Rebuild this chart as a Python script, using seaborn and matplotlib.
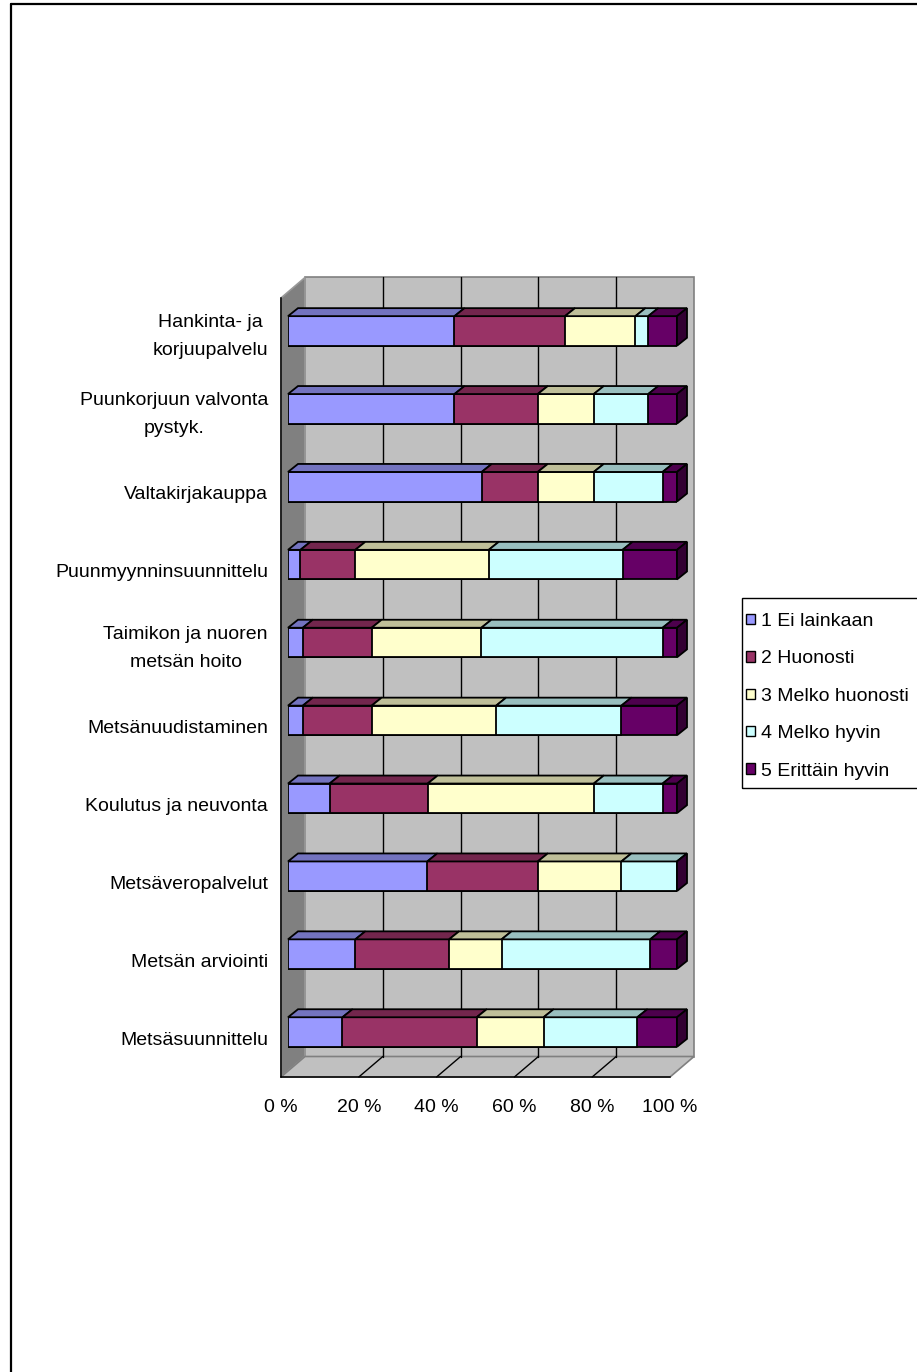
import numpy as np
import pandas as pd
import seaborn as sns
import matplotlib.pyplot as plt
from matplotlib.patches import Polygon, Rectangle, Patch
from matplotlib.lines import Line2D

# ---------------- data ----------------
categories = [
    "Hankinta- ja\nkorjuupalvelu",
    "Puunkorjuun valvonta\npystyk.",
    "Valtakirjakauppa",
    "Puunmyynninsuunnittelu",
    "Taimikon ja nuoren\nmetsän hoito",
    "Metsänuudistaminen",
    "Koulutus ja neuvonta",
    "Metsäveropalvelut",
    "Metsän arviointi",
    "Metsäsuunnittelu",
]
series = ["1 Ei lainkaan", "2 Huonosti", "3 Melko huonosti", "4 Melko hyvin", "5 Erittäin hyvin"]
ei_lainkaan = [42.8, 42.8, 49.8, 3.2, 3.8, 3.8, 10.7, 35.8, 17.3, 14.0]
huonosti = [28.4, 21.4, 14.4, 14.1, 17.7, 17.7, 25.2, 28.4, 24.1, 34.5]
melko_huonosti = [18.1, 14.4, 14.4, 34.3, 28.2, 32.0, 42.7, 21.5, 13.5, 17.2]
melko_hyvin = [3.3, 14.0, 17.7, 34.4, 46.6, 32.2, 17.7, 14.3, 38.2, 24.1]
erittain_hyvin = [7.4, 7.4, 3.7, 14.0, 3.7, 14.3, 3.7, 0.0, 6.9, 10.2]
xtick_values = [0, 20, 40, 60, 80, 100]
xtick_labels = ["0 %", "20 %", "40 %", "60 %", "80 %", "100 %"]

front_colors = ["#9999FF", "#993366", "#FFFFCC", "#CCFFFF", "#660066"]
top_colors = ["#7373BF", "#73264D", "#BFBF99", "#99BFBF", "#4D004D"]
side_color = "#330033"

df = pd.DataFrame({"Palvelu": categories,
                   series[0]: ei_lainkaan, series[1]: huonosti,
                   series[2]: melko_huonosti, series[3]: melko_hyvin,
                   series[4]: erittain_hyvin})
vals = df[series]
pct = vals.div(vals.sum(axis=1), axis=0) * 100
cum = pct.cumsum(axis=1)

# ---------------- figure ----------------
sns.set_style("white")
plt.rcParams['font.family'] = ['Liberation Sans', 'DejaVu Sans']
plt.rcParams['text.color'] = 'black'
plt.rcParams['xtick.color'] = 'black'
plt.rcParams['ytick.color'] = 'black'
plt.rcParams['axes.labelcolor'] = 'black'

W, H = 917, 1372
fig = plt.figure(figsize=(W / 100, H / 100), dpi=100)


def axes_px(l, t, w, h):
    return fig.add_axes([l / W, 1 - (t + h) / H, w / W, h / H])


AX_W, AX_H = 389, 779
ax_front = axes_px(281, 298, AX_W, AX_H)
ax_bars = axes_px(288, 292, AX_W, AX_H)

xs = 100 / AX_W      # data units per px (x)
ys = 10 / AX_H       # data units per px (y)
DX, DY = 24, 20.5    # total depth offset of back wall (px, right/up)


def pt(x, y, t):
    return (x + t * DX * xs, y - t * DY * ys)


# outer border (left and top)
fig.add_artist(Line2D([11 / W, 11 / W], [0, 1 - 4 / H], color="black", lw=1.6,
                      transform=fig.transFigure))
fig.add_artist(Line2D([11 / W, 1.0], [1 - 4 / H, 1 - 4 / H], color="black", lw=1.6,
                      transform=fig.transFigure))

# ---------------- walls ----------------
ax_front.set_xlim(0, 100)
ax_front.set_ylim(9.5, -0.5)
ax_front.patch.set_visible(False)
top, bot = -0.5, 9.5
back = Polygon([pt(0, top, 1), pt(100, top, 1), pt(100, bot, 1), pt(0, bot, 1)],
               closed=True, fc="#C0C0C0", ec="#808080", lw=1.2, clip_on=False, zorder=0)
left = Polygon([pt(0, top, 0), pt(0, top, 1), pt(0, bot, 1), pt(0, bot, 0)],
               closed=True, fc="#808080", ec="#999999", lw=1.2, clip_on=False, zorder=0.1)
floor = Polygon([pt(0, bot, 0), pt(100, bot, 0), pt(100, bot, 1), pt(0, bot, 1)],
                closed=True, fc="#C0C0C0", ec="#808080", lw=1.2, clip_on=False, zorder=0.1)
for p in (back, left, floor):
    ax_front.add_patch(p)
for xv in xtick_values[1:-1]:
    a, b = pt(xv, top, 1), pt(xv, bot, 1)
    ax_front.plot([a[0], b[0]], [a[1], b[1]], color="black", lw=1, clip_on=False, zorder=0.5)
    c, d = pt(xv, bot, 0), pt(xv, bot, 1)
    ax_front.plot([c[0], d[0]], [c[1], d[1]], color="black", lw=1, clip_on=False, zorder=0.5)

# front axes
for s in ("top", "right"):
    ax_front.spines[s].set_visible(False)
for s in ("left", "bottom"):
    ax_front.spines[s].set_color("black")
    ax_front.spines[s].set_linewidth(1.1)
    ax_front.spines[s].set_zorder(3)
ax_front.set_xticks(xtick_values)
ax_front.set_xticklabels(xtick_labels, color="black")
ax_front.tick_params(axis="x", direction="out", length=6.5, width=1.1, color="black",
                     labelsize=14, pad=9)
ax_front.set_yticks(range(len(categories)))
ax_front.set_yticklabels(categories, multialignment="center", linespacing=1.85,
                         color="black")
for lab in ax_front.get_yticklabels():
    if "\n" in lab.get_text():
        lab.set_verticalalignment("center")
ax_front.set_yticks(np.arange(-0.5, len(categories), 1), minor=True)
ax_front.tick_params(axis="y", which="major", length=0, labelsize=14, pad=9.4)
ax_front.tick_params(axis="y", which="minor", direction="out", length=6.5, width=1.1,
                     color="black")
ax_front.set_xlabel("")
ax_front.set_ylabel("")

# ---------------- bars ----------------
ax_bars.set_zorder(2)
ax_bars.patch.set_visible(False)
BAR_W = 0.38
layers = {}
for k in reversed(range(len(series))):
    n_before = len(ax_bars.patches)
    sns.barplot(x=cum[series[k]].values, y=df["Palvelu"], orient="h",
                color=front_colors[k], saturation=1, edgecolor="black",
                linewidth=1.3, width=BAR_W, errorbar=None, ax=ax_bars)
    layers[k] = ax_bars.patches[n_before:]

ax_bars.set_xlim(0, 100)
ax_bars.set_ylim(9.5, -0.5)
ax_bars.axis("off")

bdx, bdy = 10 * xs, 8 * ys   # bar depth in data units
for k in range(len(series)):
    for i, p in enumerate(layers[k]):
        yt = p.get_y()
        yb = yt + p.get_height()
        x1 = cum[series[k]].iloc[i]
        x0 = 0 if k == 0 else cum[series[k - 1]].iloc[i]
        ax_bars.add_patch(Polygon([(x0, yt), (x1, yt), (x1 + bdx, yt - bdy), (x0 + bdx, yt - bdy)],
                                  closed=True, fc=top_colors[k], ec="black", lw=1.3,
                                  clip_on=False, zorder=3))
        if k == len(series) - 1:
            ax_bars.add_patch(Polygon([(x1, yt), (x1 + bdx, yt - bdy), (x1 + bdx, yb - bdy), (x1, yb)],
                                      closed=True, fc=side_color, ec="black", lw=1.3,
                                      clip_on=False, zorder=3))

# ---------------- legend ----------------
fig.add_artist(Rectangle((742 / W, 1 - 788 / H), 200 / W, 190 / H, transform=fig.transFigure,
                         fill=False, ec="black", lw=1.0))
handles = [Patch(fc=c, ec="black", lw=1.0) for c in front_colors]
fig.legend(handles=handles, labels=series, loc="upper left",
           bbox_to_anchor=(742 / W, 1 - 609 / H), frameon=False, fontsize=14,
           handlelength=0.45, handleheight=0.45, handletextpad=0.35,
           labelspacing=1.05, borderpad=0.2, borderaxespad=0, labelcolor="black")

fig.savefig("out.png", dpi=100)
